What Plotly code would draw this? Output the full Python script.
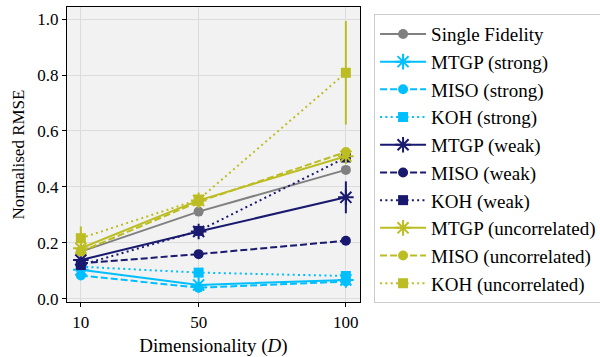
import plotly.graph_objects as go

dims = [10, 50, 100]

names = ["Single Fidelity",
         "MTGP (strong)", "MISO (strong)", "KOH (strong)",
         "MTGP (weak)", "MISO (weak)", "KOH (weak)",
         "MTGP (uncorrelated)", "MISO (uncorrelated)", "KOH (uncorrelated)"]

single_fidelity = [0.169, 0.312, 0.461]
mtgp_strong = [0.104, 0.050, 0.068]
miso_strong = [0.084, 0.040, 0.062]
koh_strong = [0.115, 0.094, 0.082]
mtgp_weak = [0.139, 0.241, 0.363]
miso_weak = [0.127, 0.160, 0.208]
koh_weak = [0.121, 0.243, 0.505]
mtgp_uncorr = [0.181, 0.352, 0.510]
miso_uncorr = [0.169, 0.347, 0.525]
koh_uncorr = [0.217, 0.355, 0.808]

err_single = [0.008, 0.008, 0.008]
err_mtgp_strong = [0.008, 0.010, 0.008]
err_miso_strong = [0.008, 0.006, 0.006]
err_koh_strong = [0.012, 0.010, 0.010]
err_mtgp_weak = [0.008, 0.010, 0.057]
err_miso_weak = [0.006, 0.006, 0.006]
err_koh_weak = [0.008, 0.010, 0.012]
err_mtgp_uncorr = [0.010, 0.010, 0.012]
err_miso_uncorr = [0.008, 0.008, 0.008]
err_koh_uncorr = [0.042, 0.012, 0.185]

GRAY = "#808080"
CYAN = "#00bfff"
NAVY = "#191970"
OLIVE = "#bcbd22"

series = [
    (single_fidelity, err_single, GRAY, "solid", "circle"),
    (mtgp_strong, err_mtgp_strong, CYAN, "solid", "asterisk-open"),
    (miso_strong, err_miso_strong, CYAN, "dash", "circle"),
    (koh_strong, err_koh_strong, CYAN, "dot", "square"),
    (mtgp_weak, err_mtgp_weak, NAVY, "solid", "asterisk-open"),
    (miso_weak, err_miso_weak, NAVY, "dash", "circle"),
    (koh_weak, err_koh_weak, NAVY, "dot", "square"),
    (mtgp_uncorr, err_mtgp_uncorr, OLIVE, "solid", "asterisk-open"),
    (miso_uncorr, err_miso_uncorr, OLIVE, "dash", "circle"),
    (koh_uncorr, err_koh_uncorr, OLIVE, "dot", "square"),
]

dash_map = {"solid": "solid", "dash": "7px,3px", "dot": "2px,3.3px"}

fig = go.Figure()
for i, (name, (vals, errs, color, ls, sym)) in enumerate(zip(names, series)):
    is_ast = sym.startswith("asterisk")
    fig.add_trace(go.Scatter(
        x=dims, y=vals, name=name, mode="lines+markers",
        legendgroup=f"g{i}",
        line=dict(color=color, width=2, dash=dash_map[ls]),
        marker=dict(symbol=sym, size=13 if is_ast else 10, color=color,
                    line=dict(color=color, width=2 if is_ast else 0)),
        error_y=dict(type="data", array=errs, visible=True,
                     color=color, thickness=2, width=0),
    ))

FONT = "Liberation Serif"
fig.update_layout(
    width=600, height=357,
    margin=dict(l=67, r=240, t=7, b=55, autoexpand=False),
    paper_bgcolor="white",
    plot_bgcolor="#f2f2f2",
    font=dict(family=FONT, size=17, color="black"),
    showlegend=True,
    legend=dict(x=1.048, y=0.976, xanchor="left", yanchor="top",
                bgcolor="white", bordercolor="#cccccc", borderwidth=1,
                font=dict(family=FONT, size=19),
                itemwidth=46, maxheight=1,
                tracegroupgap=1.3, traceorder="normal"),
)
fig.update_xaxes(
    range=[5.3, 104.8], tickmode="array", tickvals=dims,
    ticktext=[str(d) for d in dims],
    showgrid=True, gridcolor="#dcdcdc", gridwidth=1,
    showline=True, linecolor="black", linewidth=1.2, mirror=True,
    ticks="outside", ticklen=4, tickcolor="black",
    zeroline=False, tickfont=dict(size=17), automargin=False,
    title=dict(text="Dimensionality (<i>D</i>)", font=dict(size=19), standoff=9),
)
fig.update_yaxes(
    range=[-0.011, 1.043], tickmode="array",
    tickvals=[0.0, 0.2, 0.4, 0.6, 0.8, 1.0],
    ticktext=["0.0", "0.2", "0.4", "0.6", "0.8", "1.0"],
    showgrid=True, gridcolor="#dcdcdc", gridwidth=1,
    showline=True, linecolor="black", linewidth=1.2, mirror=True,
    ticks="outside", ticklen=4, tickcolor="black",
    zeroline=False, tickfont=dict(size=17), automargin=False,
    title=dict(text="Normalised RMSE", font=dict(size=17), standoff=8),
)

fig.write_html("out.html")
